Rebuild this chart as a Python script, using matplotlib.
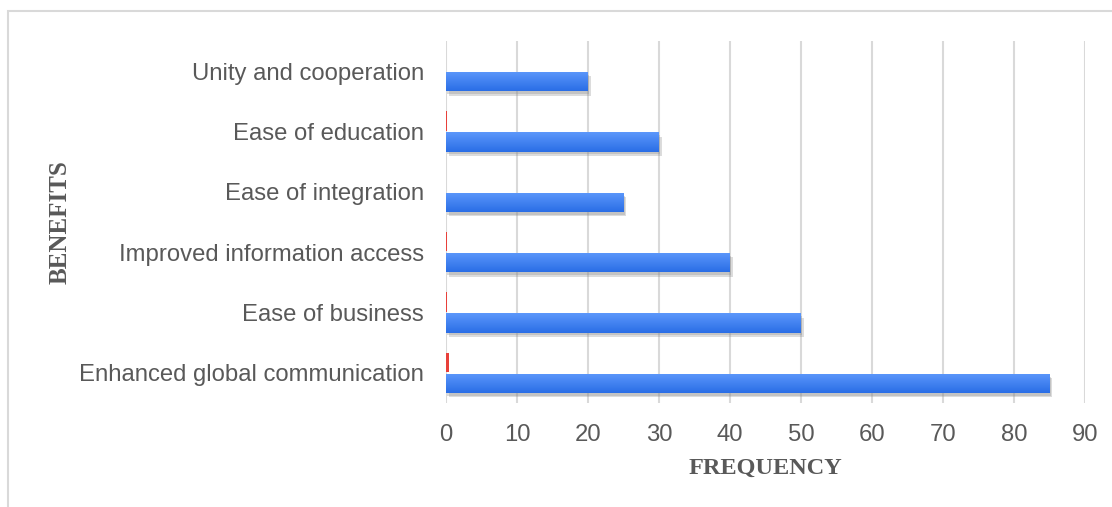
import matplotlib.pyplot as plt
import matplotlib.patheffects as pe
from matplotlib.patches import Rectangle
from matplotlib.colors import LinearSegmentedColormap
import numpy as np

# --- DATA ---
categories = ['Enhanced global communication', 'Ease of business',
              'Improved information access', 'Ease of integration',
              'Ease of education', 'Unity and cooperation']
frequency = [85, 50, 40, 25, 30, 20]
percent = [0.4, 0.2, 0.2, 0, 0.2, 0]   # tiny red series
x_ticks = [0, 10, 20, 30, 40, 50, 60, 70, 80, 90]

TEXT = '#595959'
GRID = '#d9d9d9'

fig = plt.figure(figsize=(11.12, 5.07), dpi=100)
ax = fig.add_axes([446 / 1112, 104 / 507, 639 / 1112, 362 / 507])

y = np.arange(len(categories))
h = 0.32

# red series on top of each slot
ax.barh(y + 0.175, percent, height=h, color='#e8403a', zorder=3)

# blue series with gradient fill and soft shadow
bars = ax.barh(y - 0.175, frequency, height=h, color='#3f82f2', zorder=3,
               path_effects=[pe.SimplePatchShadow(offset=(2, -3), shadow_rgbFace='#8c8c8c', alpha=0.3),
                             pe.SimplePatchShadow(offset=(1, -2), shadow_rgbFace='#8c8c8c', alpha=0.3),
                             pe.Normal()])
grad = np.linspace(0, 1, 64).reshape(-1, 1)
cmap = LinearSegmentedColormap.from_list('blu', ['#2a6ee6', '#5c97fb'])
for b in bars:
    x0, y0 = b.get_x(), b.get_y()
    im = ax.imshow(grad, cmap=cmap, aspect='auto', origin='lower',
                   extent=[x0, x0 + b.get_width(), y0, y0 + b.get_height()], zorder=4)
    im.set_clip_path(b)

ax.set_xlim(0, 90)
ax.set_ylim(-0.5, 5.5)
ax.set_xticks(x_ticks)
ax.set_yticks(y)
ax.set_yticklabels(categories)
ax.tick_params(axis='both', length=0, labelsize=17.2, labelcolor=TEXT)
ax.tick_params(axis='x', pad=15)
ax.tick_params(axis='y', pad=16)
for lab in ax.get_xticklabels() + ax.get_yticklabels():
    lab.set_family(['Liberation Sans', 'DejaVu Sans'])

ax.grid(axis='x', color=GRID, linewidth=1.5, zorder=0)
ax.set_axisbelow(True)
for s in ax.spines.values():
    s.set_visible(False)

ax.set_xlabel('FREQUENCY', fontsize=17.5, fontweight='bold', color=TEXT,
              family='Liberation Serif', labelpad=9)
fig.text(60 / 1112, 1 - 222 / 507, 'BENEFITS', rotation=90, fontsize=18, fontweight='bold',
         color=TEXT, family='Liberation Serif', ha='center', va='center')

# outer chart frame
fig.patches.append(Rectangle((8 / 1112, -0.05), 1.2, 1 - 11 / 507 + 0.05, transform=fig.transFigure,
                             fill=False, edgecolor='#d9d9d9', linewidth=1.5))

fig.savefig('out.png', dpi=100)
